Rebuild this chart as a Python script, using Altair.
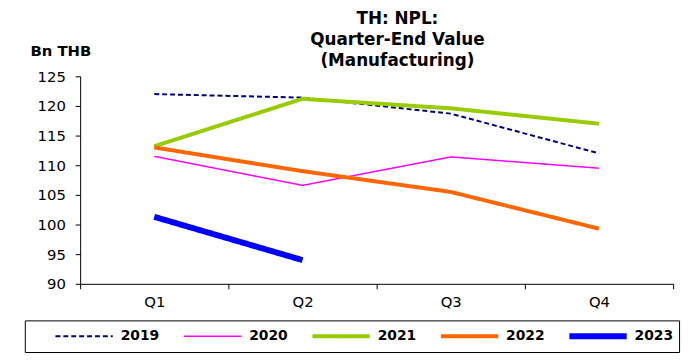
import altair as alt
import pandas as pd

quarters = ["Q1", "Q2", "Q3", "Q4"]
years = ["2019", "2020", "2021", "2022", "2023"]
v2019 = [122.0, 121.4, 118.7, 112.0]
v2020 = [111.5, 106.6, 111.4, 109.5]
v2021 = [113.2, 121.2, 119.6, 117.0]
v2022 = [113.0, 109.0, 105.5, 99.3]
v2023 = [101.3, 94.0]

colors = ["#000080", "#FF00FF", "#99CC00", "#FF6600", "#0000FF"]
widths = [2, 1.5, 4, 4, 6]
dashes = [[5, 3], [1, 0], [1, 0], [1, 0], [1, 0]]

rows = []
for y, vals in zip(years, [v2019, v2020, v2021, v2022, v2023]):
    for q, v in zip(quarters, vals):
        rows.append({"quarter": q, "year": y, "value": v})
df = pd.DataFrame(rows)

FONT = "DejaVu Sans"

chart = alt.Chart(df).mark_line(strokeCap="butt").encode(
    x=alt.X("quarter:N", sort=quarters, bandPosition=0.5,
            scale=alt.Scale(type="band", paddingInner=0, paddingOuter=0),
            axis=alt.Axis(title=None, labelAngle=0, tickBand="extent", labelPadding=6)),
    y=alt.Y("value:Q", scale=alt.Scale(domain=[90, 125], nice=False, zero=False),
            axis=alt.Axis(values=[90, 95, 100, 105, 110, 115, 120, 125], title="Bn THB",
                          labelPadding=10,
                          titleAngle=0, titleX=-20, titleY=-21, titleAlign="center",
                          titleBaseline="alphabetic", titleFontWeight="bold", titleFontSize=15)),
    color=alt.Color("year:N", scale=alt.Scale(domain=years, range=colors),
                    legend=alt.Legend(title="\u00a0")),
    strokeWidth=alt.StrokeWidth("year:N", scale=alt.Scale(type="ordinal", domain=years, range=widths),
                                legend=alt.Legend(title="\u00a0")),
    strokeDash=alt.StrokeDash("year:N", scale=alt.Scale(domain=years, range=dashes),
                              legend=alt.Legend(title="\u00a0")),
    order=alt.Order("quarter:N"),
).properties(
    width=600, height=210,
    title=alt.TitleParams(["TH: NPL:", "Quarter-End Value", "(Manufacturing)"],
                          anchor="middle", dx=21, dy=33, offset=6, fontSize=17, font=FONT,
                          fontWeight="bold", lineHeight=21.5, color="black"),
    autosize=alt.AutoSizeParams(type="none"),
    padding={"left": 73, "top": 67, "right": 12, "bottom": 76},
).configure_view(stroke=None).configure_axis(
    labelFont=FONT, titleFont=FONT, labelFontSize=15, labelColor="black", titleColor="black",
    domainColor="black", tickColor="black", tickSize=5, grid=False,
).configure_legend(
    orient="none", legendX=-56, legendY=247, direction="horizontal", columns=5,
    strokeColor="black", padding=6, symbolType="stroke", symbolSize=3364, clipHeight=20,
    titleOrient="left", titlePadding=22, titleFontSize=8, titleFont=FONT,
    labelFont=FONT, labelFontSize=14, labelFontWeight="bold", labelColor="black",
    columnPadding=22, labelOffset=5, gridAlign="all",
)

chart.save("out.html", embed_options={"renderer": "svg", "actions": False})
